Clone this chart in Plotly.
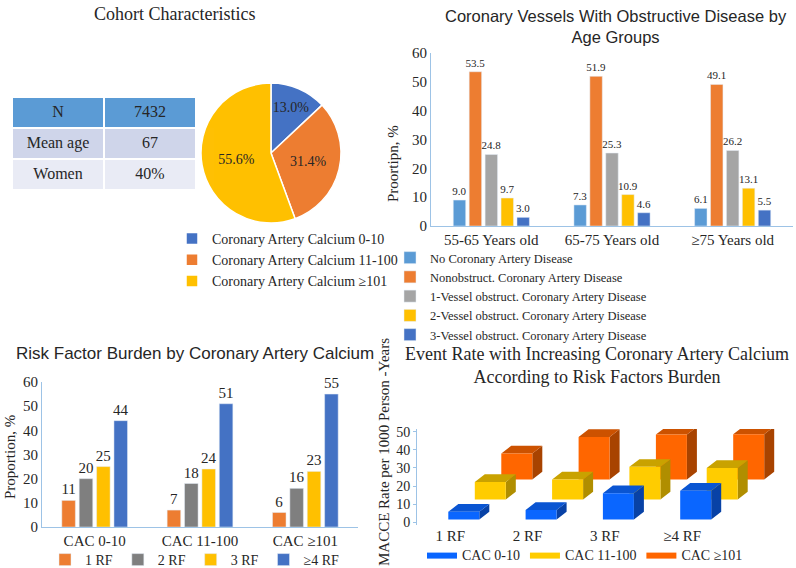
import plotly.graph_objects as go

W, H = 796, 568
SERIF = "Liberation Serif"
SANS = "Liberation Sans"


def px(x):
    return x / W


def py(y):
    return 1 - y / H


# ---------------- data ----------------
table_labels = ["N", "Mean age", "Women"]
table_values = ["7432", "67", "40%"]

pie_labels = ["Coronary Artery Calcium 0-10", "Coronary Artery Calcium 11-100",
              "Coronary Artery Calcium ≥101"]
pie_values = [13.0, 31.4, 55.6]

age_groups = ["55-65 Years old", "65-75 Years old", "≥75 Years old"]
cad_series = ["No Coronary Artery Disease", "Nonobstruct. Coronary Artery Disease",
              "1-Vessel obstruct. Coronary Artery Disease",
              "2-Vessel obstruct. Coronary Artery Disease",
              "3-Vessel obstruct. Coronary Artery Disease"]
no_cad = [9.0, 7.3, 6.1]
nonobstruct = [53.5, 51.9, 49.1]
one_vessel = [24.8, 25.3, 26.2]
two_vessel = [9.7, 10.9, 13.1]
three_vessel = [3.0, 4.6, 5.5]

cac_groups = ["CAC 0-10", "CAC 11-100", "CAC ≥101"]
rf_series = ["1 RF", "2 RF", "3 RF", "≥4 RF"]
rf1 = [11, 7, 6]
rf2 = [20, 18, 16]
rf3 = [25, 24, 23]
rf4 = [44, 51, 55]

rf_categories = ["1 RF", "2 RF", "3 RF", "≥4 RF"]
event_series = ["CAC 0-10", "CAC 11-100", "CAC ≥101"]
event_cac_0_10 = [4.2, 5.2, 14.4, 15.8]
event_cac_11_100 = [9.7, 11.0, 18.0, 17.4]
event_cac_101 = [14.4, 23.5, 24.8, 25.0]

# ---------------- styles ----------------
C_LBLUE = "#5B9BD5"
C_ORANGE = "#ED7D31"
C_GRAY = "#A5A5A5"
C_DGRAY = "#7F7F7F"
C_YELLOW = "#FFC000"
C_BLUE = "#4472C4"
AXIS_LINE = "#9DC3E6"
TXT = "#262626"

fig = go.Figure()

# ---------------- table ----------------
fig.add_trace(go.Table(
    domain=dict(x=[px(12), px(196)], y=[py(193), py(97)]),
    columnwidth=[1, 1],
    header=dict(values=[table_labels[0], table_values[0]],
                fill_color=C_LBLUE, line=dict(color="white", width=2),
                font=dict(family=SERIF, size=16, color=TXT), height=31, align="center"),
    cells=dict(values=[table_labels[1:], table_values[1:]],
               fill_color=[["#CFD5EA", "#E9EBF5"], ["#CFD5EA", "#E9EBF5"]],
               line=dict(color="white", width=2),
               font=dict(family=SERIF, size=16, color=TXT), height=31, align="center"),
))

# ---------------- pie ----------------
fig.add_trace(go.Pie(
    labels=pie_labels, values=pie_values, sort=False, direction="clockwise", rotation=0,
    domain=dict(x=[px(201), px(341)], y=[py(223), py(83)]),
    marker=dict(colors=[C_BLUE, C_ORANGE, C_YELLOW], line=dict(color="white", width=1.5)),
    texttemplate="%{value:.1f}%", textposition="inside", insidetextorientation="horizontal",
    textfont=dict(family=SERIF, size=14, color=TXT), legend="legend", hoverinfo="skip",
))

# ---------------- top-right grouped bars ----------------
cad_values = [no_cad, nonobstruct, one_vessel, two_vessel, three_vessel]
cad_colors = [C_LBLUE, C_ORANGE, C_GRAY, C_YELLOW, C_BLUE]
for name, vals, col in zip(cad_series, cad_values, cad_colors):
    fig.add_trace(go.Bar(
        x=age_groups, y=vals, name=name, marker=dict(color=col),
        text=[f"{v:.1f}" for v in vals], textposition="outside", constraintext="none",
        textfont=dict(family=SERIF, size=11, color=TXT), cliponaxis=False,
        xaxis="x", yaxis="y", legend="legend2",
    ))

# ---------------- bottom-left grouped bars ----------------
rf_values = [rf1, rf2, rf3, rf4]
rf_colors = [C_ORANGE, C_DGRAY, C_YELLOW, C_BLUE]
for name, vals, col in zip(rf_series, rf_values, rf_colors):
    fig.add_trace(go.Bar(
        x=cac_groups, y=vals, name=name, marker=dict(color=col),
        text=[str(v) for v in vals], textposition="outside", constraintext="none",
        textfont=dict(family=SERIF, size=15, color=TXT), cliponaxis=False,
        xaxis="x2", yaxis="y2", legend="legend3",
    ))

# ---------------- bottom-right pseudo-3D bars ----------------
X_START, CAT_PITCH, ROW_DX, FACE_W = 31.3, 77.3, 26.5, 31.0
BASE0, ROW_DY = 1.6, 11.0
DEPTH_X, DEPTH_Y = 10.0, 4.25


def box_faces(values, s):
    fx, fy, tx, ty, sx, sy = [], [], [], [], [], []
    for i, v in enumerate(values):
        x0 = X_START + i * CAT_PITCH + s * ROW_DX
        x1 = x0 + FACE_W
        b = BASE0 + s * ROW_DY
        t = b + v
        fx += [x0, x1, x1, x0, x0, None]
        fy += [b, b, t, t, b, None]
        tx += [x0, x1, x1 + DEPTH_X, x0 + DEPTH_X, x0, None]
        ty += [t, t, t + DEPTH_Y, t + DEPTH_Y, t, None]
        sx += [x1, x1 + DEPTH_X, x1 + DEPTH_X, x1, x1, None]
        sy += [b, b + DEPTH_Y, t + DEPTH_Y, t, b, None]
    return (fx, fy), (tx, ty), (sx, sy)


event_values = [event_cac_0_10, event_cac_11_100, event_cac_101]
face_colors = [("#0A66FF", "#0A55D2", "#0842A6"),
               ("#FFCC00", "#C9A200", "#B08E00"),
               ("#FF6600", "#CC5200", "#A84300")]
legend_colors = ["#2F6BD8", "#FFCC00", "#FF6600"]
for s in [2, 1, 0]:
    front, top, side = box_faces(event_values[s], s)
    fc, tc, sc = face_colors[s]
    for (xs, ys), col in [(side, sc), (top, tc)]:
        fig.add_trace(go.Scatter(x=xs, y=ys, fill="toself", fillcolor=col, mode="lines",
                                 line=dict(width=0, color=col), showlegend=False,
                                 hoverinfo="skip", xaxis="x4", yaxis="y4"))
    fig.add_trace(go.Scatter(x=front[0], y=front[1], fill="toself", fillcolor=fc, mode="lines",
                             line=dict(width=0, color=legend_colors[s]), name=event_series[s],
                             legendrank=s + 1, hoverinfo="skip", xaxis="x4", yaxis="y4",
                             legend="legend4"))

# ---------------- layout ----------------
axis_common = dict(showgrid=False, zeroline=False, showline=True, linecolor=AXIS_LINE,
                   linewidth=1, ticks="", tickfont=dict(family=SERIF, size=15, color=TXT))

tick_positions = [X_START + 2 + i * CAT_PITCH for i in range(len(rf_categories))]


def ann(text, x, y, size, family=SERIF, angle=0):
    return dict(text=text, x=px(x), y=py(y), xref="paper", yref="paper", showarrow=False,
                xanchor="center", yanchor="middle", textangle=angle,
                font=dict(family=family, size=size, color=TXT))


fig.update_layout(
    width=W, height=H, margin=dict(l=0, r=0, t=0, b=0, autoexpand=False),
    paper_bgcolor="white", plot_bgcolor="white",
    barmode="group",
    xaxis=dict(domain=[px(431), px(793)], anchor="y", **axis_common),
    yaxis=dict(domain=[py(226), py(53)], anchor="x", range=[0, 60], dtick=10, **axis_common),
    xaxis2=dict(domain=[px(42), px(358)], anchor="y2", **axis_common),
    yaxis2=dict(domain=[py(527), py(382)], anchor="x2", range=[0, 60], dtick=10, **axis_common),
    xaxis4=dict(domain=[px(417), 1.0], anchor="y4", range=[0, 379], showgrid=False,
                zeroline=False, showline=False, ticks="",
                tickmode="array", tickvals=tick_positions, ticktext=rf_categories,
                tickfont=dict(family=SERIF, size=15, color=TXT)),
    xaxis5=dict(domain=[px(417), px(727)], anchor="y4", range=[0, 310], showgrid=False,
                zeroline=False, showline=True, linecolor=AXIS_LINE, ticks="",
                showticklabels=False),
    yaxis4=dict(domain=[py(525), py(429)], anchor="x4", range=[-1.5, 51.5], dtick=10,
                showgrid=False, zeroline=False, showline=True, linecolor=AXIS_LINE,
                ticks="outside", ticklen=3, tickcolor=AXIS_LINE,
                tickfont=dict(family=SERIF, size=14, color=TXT)),
    legend=dict(x=px(172), y=py(223), xanchor="left", yanchor="top",
                font=dict(family=SERIF, size=14, color=TXT), bgcolor="rgba(0,0,0,0)",
                itemwidth=30, tracegroupgap=0),
    legend2=dict(x=px(390), y=py(243), xanchor="left", yanchor="top",
                 font=dict(family=SERIF, size=12.5, color=TXT), bgcolor="rgba(0,0,0,0)",
                 itemwidth=30, tracegroupgap=0),
    legend3=dict(orientation="h", x=px(195), y=py(560), xanchor="center", yanchor="middle",
                 font=dict(family=SERIF, size=14, color=TXT), bgcolor="rgba(0,0,0,0)",
                 itemwidth=30),
    legend4=dict(orientation="h", x=px(585), y=py(555), xanchor="center", yanchor="middle",
                 font=dict(family=SERIF, size=14, color=TXT), bgcolor="rgba(0,0,0,0)",
                 itemwidth=30),
    bargap=0.34, bargroupgap=0.22,
    annotations=[
        ann("Cohort Characteristics", 174, 14, 18),
        ann("Coronary Vessels With Obstructive Disease by<br>Age Groups", 616, 27, 16.5, SANS),
        ann("Risk Factor Burden by Coronary Artery Calcium", 195, 353, 17, SANS),
        ann("Event Rate with Increasing Coronary Artery Calcium<br>According to Risk Factors Burden",
            597, 365, 18),
        ann("Proortipn, %", 393, 164, 15, angle=-90),
        ann("Proportion, %", 10, 457, 15, angle=-90),
        ann("MACCE Rate per 1000 Person -Years", 384, 452, 15, angle=-90),
    ],
)

fig.write_html("out.html")
